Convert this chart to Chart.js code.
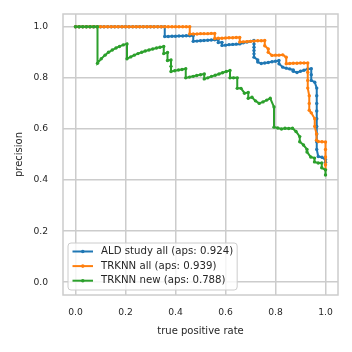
<!DOCTYPE html>
<html>
<head>
<meta charset="utf-8">
<script src="https://cdn.jsdelivr.net/npm/chart.js@4.4.1/dist/chart.umd.min.js"></script>
<style>
    html, body { margin: 0; padding: 0; background: #fff; }
    #wrap { width: 352px; height: 352px; }
</style>
</head>
<body>
<div id="wrap"><canvas id="prChart" width="352" height="352"></canvas></div>
<script>
// Series names and colours
const seriesLabels = ['ALD study all (aps: 0.924)', 'TRKNN all (aps: 0.939)', 'TRKNN new (aps: 0.788)'];
const seriesColors = ['#1f77b4', '#ff7f0e', '#2ca02c'];

// Tick labels
const axisTicks = [0, 0.2, 0.4, 0.6, 0.8, 1.0];

// ALD study all
const aldRecall = [
    0, .014, .029, .043, .057, .071, .086, .1, .114, .129, .143, .157, .171, .186, .2, .214, .229, .243, .257, .271, .286, .3, .314, .329, .343, .357,
    .357, .371, .386, .4, .414, .429, .443, .457, .471,
    .471, .486, .5, .514, .529, .543, .557, .571,
    .571, .586, .586, .6, .614, .629, .643, .657, .671, .686, .7, .714,
    .714, .714, .714, .714, .714, .729, .729, .743, .757, .771, .786, .8, .814,
    .814, .829, .843, .857, .871, .871, .886, .9, .914, .929, .943,
    .943, .943, .957, .965, .965, .965, .965, .965, .965, .965, .965, .965, .971, .986, 1.0, 1.0
];
const aldPrecision = [
    1, 1, 1, 1, 1, 1, 1, 1, 1, 1, 1, 1, 1, 1, 1, 1, 1, 1, 1, 1, 1, 1, 1, 1, 1, 1,
    .962, .962, .963, .963, .964, .964, .965, .965, .966,
    .943, .944, .945, .946, .947, .948, .949, .95,
    .938, .939, .927, .928, .93, .931, .932, .933, .937, .94, .943, .946,
    .933, .92, .907, .894, .881, .87, .862, .856, .858, .86, .863, .865, .868,
    .855, .842, .838, .835, .831, .826, .821, .826, .83, .835, .836,
    .812, .79, .783, .76, .73, .7, .67, .64, .61, .58, .55, .52, .492, .489, .48, .47
];

// TRKNN all
const trknnAllRecall = [
    0, .014, .029, .043, .057, .071, .086, .1, .114, .129, .143, .157, .171, .186, .2, .214, .229, .243, .257, .271, .286, .3, .314, .329, .343, .357, .371, .386, .4, .414, .429, .443, .457,
    .457, .471, .486, .5, .514, .529, .543, .557,
    .557, .571, .586, .6, .614, .629, .643, .657,
    .657, .671, .686, .7, .714, .729, .743, .757,
    .757, .771, .771, .786, .8, .814, .829, .843,
    .843, .857, .871, .886, .9, .914, .929,
    .929, .929, .929, .935, .935, .935, .943, .957, .957, .964, .964, .971, .986, 1.0, 1.0, 1.0, 1.0, 1.0
];
const trknnAllPrecision = [
    1, 1, 1, 1, 1, 1, 1, 1, 1, 1, 1, 1, 1, 1, 1, 1, 1, 1, 1, 1, 1, 1, 1, 1, 1, 1, 1, 1, 1, 1, 1, 1, 1,
    .972, .972, .972, .973, .973, .973, .974, .974,
    .954, .955, .955, .956, .957, .957, .958, .958,
    .94, .941, .942, .943, .944, .945, .945, .946,
    .926, .913, .9, .888, .889, .889, .89, .881,
    .855, .856, .857, .857, .858, .858, .858,
    .822, .79, .76, .73, .7, .673, .663, .64, .61, .58, .556, .551, .55, .549, .52, .49, .46, .44
];

// TRKNN new
const trknnNewRecall = [
    0, .015, .029, .044, .059, .074, .088,
    .088, .103, .118, .132, .147, .162, .176, .191, .206,
    .206, .221, .235, .25, .265, .279, .294, .309, .324, .338, .353,
    .353, .368, .368, .382, .382, .382, .397, .412, .426, .441,
    .441, .456, .471, .485, .5, .515,
    .515, .529, .544, .559, .574, .588, .603, .618,
    .618, .632, .647,
    .647, .662, .676, .691, .691, .706, .72, .735, .75, .765, .779, .794,
    .794, .809, .824, .838, .853, .868, .882, .897, .897, .912, .926, .926, .941, .956, .956, .971, .985, .985, 1.0, 1.0
];
const trknnNewPrecision = [
    1, 1, 1, 1, 1, 1, 1,
    .857, .875, .889, .9, .909, .917, .923, .929, .933,
    .875, .882, .889, .895, .9, .905, .909, .913, .917, .92, .923,
    .895, .899, .868, .87, .845, .825, .828, .831, .833, .836,
    .8, .803, .806, .809, .812, .815,
    .796, .8, .806, .81, .815, .82, .825, .829,
    .8, .8, .8,
    .759, .759, .74, .743, .72, .724, .71, .7, .706, .713, .72, .686,
    .607, .604, .6, .603, .602, .603, .59, .57, .55, .537, .52, .51, .49, .486, .471, .467, .467, .448, .44, .42
];

const textColor = '#262626';
const gridColor = '#cccccc';

function toPoints(xs, ys) {
    return xs.map((x, i) => ({ x: x, y: ys[i] }));
}

// Frame round the plot area (all four sides)
const framePlugin = {
    id: 'frame',
    beforeDatasetsDraw(chart) {
        const { ctx, chartArea: a } = chart;
        ctx.save();
        ctx.strokeStyle = gridColor;
        ctx.lineWidth = 1.5;
        ctx.strokeRect(a.left, a.top, a.right - a.left, a.bottom - a.top);
        ctx.restore();
    }
};

// Legend inside the plot, lower left
const innerLegend = {
    id: 'innerLegend',
    afterDatasetsDraw(chart) {
        const { ctx, chartArea: a } = chart;
        const sets = chart.data.datasets;
        ctx.save();
        ctx.font = '10.2px "DejaVu Sans"';
        const textW = Math.max(...sets.map(d => ctx.measureText(d.label).width));
        const left = a.left + 5;
        const bottom = a.bottom - 5;
        const w = 33 + textW + 4;
        const h = 47;
        const top = bottom - h;

        ctx.beginPath();
        ctx.roundRect(left, top, w, h, 3);
        ctx.fillStyle = 'rgba(255,255,255,0.8)';
        ctx.fill();
        ctx.strokeStyle = gridColor;
        ctx.lineWidth = 1;
        ctx.stroke();

        sets.forEach((d, i) => {
            const y = top + 8.5 + i * 14.6;
            ctx.strokeStyle = d.borderColor;
            ctx.lineWidth = 2;
            ctx.beginPath();
            ctx.moveTo(left + 4.5, y);
            ctx.lineTo(left + 25, y);
            ctx.stroke();
            ctx.fillStyle = d.borderColor;
            ctx.beginPath();
            ctx.arc(left + 14.8, y, 1.8, 0, Math.PI * 2);
            ctx.fill();
            ctx.fillStyle = textColor;
            ctx.textBaseline = 'middle';
            ctx.textAlign = 'left';
            ctx.fillText(d.label, left + 33, y);
        });
        ctx.restore();
    }
};

function makeDataset(i, xs, ys, order) {
    return {
        label: seriesLabels[i],
        data: toPoints(xs, ys),
        borderColor: seriesColors[i],
        backgroundColor: seriesColors[i],
        pointBackgroundColor: seriesColors[i],
        pointBorderWidth: 0,
        pointRadius: 1.7,
        borderWidth: 2,
        tension: 0,
        fill: false,
        order: order
    };
}

document.addEventListener('DOMContentLoaded', () => {
    const ctx = document.getElementById('prChart').getContext('2d');
    new Chart(ctx, {
        type: 'line',
        data: {
            datasets: [
                makeDataset(0, aldRecall, aldPrecision, 3),
                makeDataset(1, trknnAllRecall, trknnAllPrecision, 2),
                makeDataset(2, trknnNewRecall, trknnNewPrecision, 1)
            ]
        },
        options: {
            responsive: false,
            animation: false,
            devicePixelRatio: 1,
            layout: { padding: { top: 14, right: 14, left: 0, bottom: 0 } },
            plugins: {
                legend: { display: false },
                tooltip: { enabled: false }
            },
            scales: {
                x: {
                    type: 'linear',
                    min: -0.05,
                    max: 1.05,
                    afterFit: s => { s.height = 57; s.paddingLeft = 0; s.paddingRight = 0; },
                    afterBuildTicks: s => { s.ticks = axisTicks.map(v => ({ value: v })); },
                    grid: { color: gridColor, lineWidth: 1.5, drawTicks: false },
                    border: { display: false },
                    ticks: {
                        padding: 12,
                        color: textColor,
                        font: { family: 'DejaVu Sans', size: 9.2 },
                        maxRotation: 0,
                        callback: v => v.toFixed(1)
                    },
                    title: {
                        display: true,
                        text: 'true positive rate',
                        color: textColor,
                        font: { family: 'DejaVu Sans', size: 10 },
                        padding: { top: 0, bottom: 15 }
                    }
                },
                y: {
                    type: 'linear',
                    min: -0.05,
                    max: 1.05,
                    afterFit: s => { s.width = 63; s.paddingTop = 0; s.paddingBottom = 0; },
                    afterBuildTicks: s => { s.ticks = axisTicks.map(v => ({ value: v })); },
                    grid: { color: gridColor, lineWidth: 1.5, drawTicks: false },
                    border: { display: false },
                    ticks: {
                        padding: 15,
                        color: textColor,
                        font: { family: 'DejaVu Sans', size: 9.2 },
                        callback: v => v.toFixed(1)
                    },
                    title: {
                        display: true,
                        text: 'precision',
                        color: textColor,
                        font: { family: 'DejaVu Sans', size: 10 },
                        padding: { top: 13, bottom: 0 }
                    }
                }
            }
        },
        plugins: [framePlugin, innerLegend]
    });
});
</script>
</body>
</html>
